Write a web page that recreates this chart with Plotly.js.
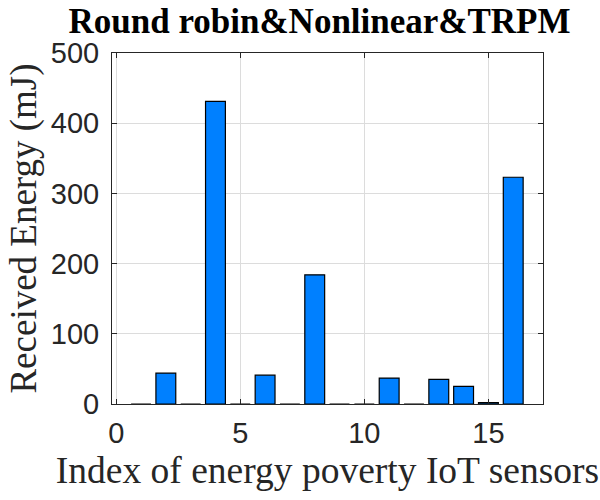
<!DOCTYPE html>
<html>
<head>
<meta charset="utf-8">
<script src="https://cdn.plot.ly/plotly-3.0.1.min.js"></script>
<style>html,body{margin:0;padding:0;background:#fff;}#chart{width:600px;height:500px;}</style>
</head>
<body>
<div id="chart"></div>
<script>
// Sensor indices and received energy (mJ)
const sensorIndex = [1, 2, 3, 4, 5, 6, 7, 8, 9, 10, 11, 12, 13, 14, 15, 16];
const receivedEnergy = [0, 44, 0, 431, 0, 41, 0, 184, 0, 0, 37, 0, 35, 25, 2, 323];
const xTickVals = [0, 5, 10, 15];
const yTickVals = [0, 100, 200, 300, 400, 500];

const trace = {
  type: 'bar',
  x: sensorIndex,
  y: receivedEnergy,
  width: 0.8,
  marker: {color: 'rgb(0,128,255)', line: {color: '#000', width: 1.2}},
  hoverinfo: 'x+y'
};

const axisCommon = {
  showline: true, linecolor: '#262626', linewidth: 1,
  mirror: 'ticks', ticks: 'inside', ticklen: 5, tickcolor: '#262626', tickwidth: 1,
  showgrid: true, gridcolor: '#dcdcdc', gridwidth: 1,
  zeroline: false,
  tickfont: {family: 'Liberation Sans, Arial, sans-serif', size: 29, color: '#262626'}
};

const layout = {
  width: 600, height: 500,
  margin: {l: 112, r: 57, t: 53, b: 96},
  paper_bgcolor: '#fff', plot_bgcolor: '#fff',
  showlegend: false,
  title: {
    text: '<b>Round robin&Nonlinear&TRPM</b>',
    font: {family: 'Liberation Serif, Times New Roman, serif', size: 35, color: '#000'},
    x: 0.5325, xanchor: 'center', xref: 'container',
    y: 0.958, yanchor: 'middle', yref: 'container'
  },
  xaxis: Object.assign({}, axisCommon, {
    range: [-0.17, 17.2],
    tickvals: xTickVals,
    ticktext: xTickVals.map(String),
    ticklabelstandoff: 3,
    title: {text: 'Index of energy poverty IoT sensors', standoff: 8,
      font: {family: 'Liberation Serif, Times New Roman, serif', size: 37.5, color: '#262626'}}
  }),
  yaxis: Object.assign({}, axisCommon, {
    range: [0, 500],
    tickvals: yTickVals,
    ticktext: yTickVals.map(String),
    ticklabelstandoff: 6,
    title: {text: 'Received Energy (mJ)', standoff: 2,
      font: {family: 'Liberation Serif, Times New Roman, serif', size: 37, color: '#262626'}}
  })
};

Plotly.newPlot('chart', [trace], layout, {displayModeBar: false, staticPlot: true});
</script>
</body>
</html>
